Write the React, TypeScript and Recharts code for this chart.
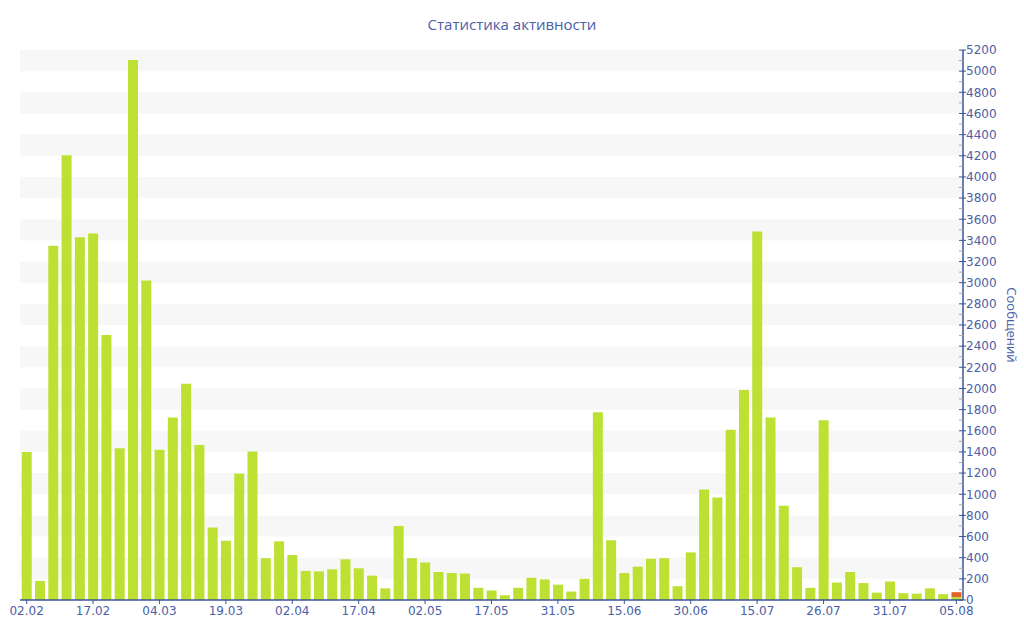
import { BarChart, Bar, XAxis, YAxis, ReferenceArea } from 'recharts';

// один столбец на период, подписи дат — под каждым пятым
const tickLabels = [
    '02.02', '17.02', '04.03', '19.03', '02.04', '17.04', '02.05', '17.05',
    '31.05', '15.06', '30.06', '15.07', '26.07', '31.07', '05.08',
];

const messages = [
    1400, 180, 3350, 4205, 3430, 3465, 2505, 1435, 5105, 3020,
    1420, 1725, 2045, 1465, 685, 560, 1195, 1405, 395, 555,
    425, 275, 270, 290, 385, 300, 230, 110, 700, 395,
    355, 265, 255, 250, 115, 90, 45, 115, 210, 195,
    145, 80, 200, 1775, 565, 255, 315, 390, 395, 130,
    450, 1045, 970, 1610, 1985, 3485, 1725, 890, 310, 115,
    1700, 165, 265, 160, 70, 175, 65, 60, 110, 55,
    28,
];

// последний (текущий) период — незавершённая часть
const current = [
    0, 0, 0, 0, 0, 0, 0, 0, 0, 0,
    0, 0, 0, 0, 0, 0, 0, 0, 0, 0,
    0, 0, 0, 0, 0, 0, 0, 0, 0, 0,
    0, 0, 0, 0, 0, 0, 0, 0, 0, 0,
    0, 0, 0, 0, 0, 0, 0, 0, 0, 0,
    0, 0, 0, 0, 0, 0, 0, 0, 0, 0,
    0, 0, 0, 0, 0, 0, 0, 0, 0, 0,
    46,
];

const yMax = 5200;
const yTicks: number[] = [];
for (let v = 0; v <= yMax; v += 100) yTicks.push(v);

const bands: [number, number][] = [];
for (let v = 200; v < yMax; v += 400) bands.push([v, v + 200]);

const data = messages.map((m, i) => ({ n: i, messages: m, current: current[i] }));

const BLUE = '#4a60a8';
const AXIS = '#3d5599';

function YTick(props: any) {
    const { x, y, payload } = props;
    const major = payload.value % 200 === 0;
    if (!major) {
        return <line x1={x - 4} x2={x} y1={y} y2={y} stroke="#a9a9a9" strokeWidth={1} />;
    }
    return (
        <g>
            <line x1={x - 4} x2={x + 3} y1={y} y2={y} stroke={AXIS} strokeWidth={1} />
            <text x={x + 3} y={y} dy="0.36em" fill={BLUE} fontSize={12} fontFamily="DejaVu Sans">
                {payload.value}
            </text>
        </g>
    );
}

function AxisTitle(props: any) {
    const { viewBox } = props;
    const cx = viewBox.x + 49;
    const cy = viewBox.y + viewBox.height / 2;
    return (
        <text
            x={cx}
            y={cy}
            transform={`rotate(90 ${cx} ${cy})`}
            textAnchor="middle"
            dominantBaseline="central"
            fill={BLUE}
            fontSize={13}
            fontFamily="Open Sans"
        >
            Сообщений
        </text>
    );
}

export default function App() {
    return (
        <div style={{ position: 'absolute', left: 0, top: 0, width: 1024, height: 640, background: '#fff' }}>
            <div
                style={{
                    position: 'absolute',
                    top: 14,
                    width: 1024,
                    textAlign: 'center',
                    color: BLUE,
                    fontFamily: 'Open Sans',
                    fontSize: 15,
                }}
            >
                Статистика активности
            </div>
            <BarChart
                width={1024}
                height={640}
                data={data}
                margin={{ top: 50, right: 5, left: 20, bottom: 0 }}
                barCategoryGap="13%"
            >
                {bands.map(([a, b]) => (
                    <ReferenceArea key={a} y1={a} y2={b} fill="#f7f7f7" fillOpacity={1} stroke="none" ifOverflow="hidden" />
                ))}
                <XAxis
                    dataKey="n"
                    interval={4}
                    height={40}
                    tickFormatter={(v: number) => tickLabels[v / 5] ?? ''}
                    axisLine={{ stroke: AXIS, strokeWidth: 1.5 }}
                    tickLine={{ stroke: AXIS }}
                    tickSize={4}
                    tick={{ fill: BLUE, fontSize: 12, fontFamily: 'DejaVu Sans' }}
                />
                <YAxis
                    orientation="right"
                    width={56}
                    domain={[0, yMax]}
                    ticks={yTicks}
                    interval={0}
                    tickLine={false}
                    tickSize={0}
                    tickMargin={0}
                    axisLine={{ stroke: AXIS, strokeWidth: 1.5 }}
                    tick={<YTick />}
                    label={<AxisTitle />}
                />
                <Bar dataKey="messages" stackId="a" fill="#bde132" isAnimationActive={false} />
                <Bar dataKey="current" stackId="a" fill="#e3622c" isAnimationActive={false} />
            </BarChart>
        </div>
    );
}
